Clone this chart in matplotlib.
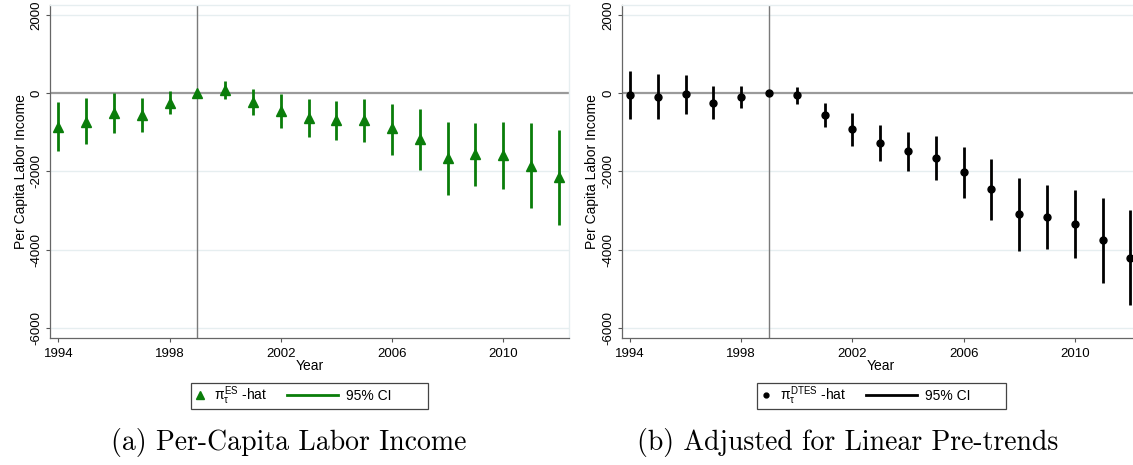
import matplotlib
matplotlib.use("Agg")
import matplotlib.pyplot as plt
from matplotlib.lines import Line2D
from matplotlib.patches import Rectangle
from matplotlib.legend_handler import HandlerLine2D

years = [1994, 1995, 1996, 1997, 1998, 1999, 2000, 2001, 2002, 2003,
         2004, 2005, 2006, 2007, 2008, 2009, 2010, 2011, 2012]

# Panel (a): event-study estimates
es_est = [-862, -734, -520, -563, -264, 0, 77, -238, -460, -631,
          -690, -690, -904, -1185, -1671, -1560, -1586, -1858, -2140]
es_lo = [-1476, -1296, -1015, -997, -545, 0, -146, -563, -887, -1117,
         -1202, -1262, -1577, -1969, -2609, -2379, -2464, -2941, -3368]
es_hi = [-222, -136, 0, -119, 40, 0, 307, 94, -34, -162,
         -205, -145, -281, -418, -750, -776, -742, -776, -938]

# Panel (b): adjusted for linear pre-trends
dt_est = [-51, -94, -34, -247, -111, 0, -60, -563, -930, -1270,
          -1492, -1662, -2029, -2464, -3103, -3163, -3342, -3760, -4212]
dt_lo = [-673, -656, -537, -665, -392, 0, -281, -878, -1355, -1748,
         -1986, -2225, -2685, -3257, -4033, -3982, -4220, -4859, -5422]
dt_hi = [563, 486, 452, 179, 179, 0, 145, -247, -520, -810,
         -997, -1100, -1372, -1688, -2183, -2362, -2473, -2677, -3000]

xticks = [1994, 1998, 2002, 2006, 2010]
yticks = [-6000, -4000, -2000, 0, 2000]
captions = ["(a) Per-Capita Labor Income", "(b) Adjusted for Linear Pre-trends"]
legend_labels = [r"$\pi_\tau^{ES}$ -hat", r"$\pi_\tau^{DTES}$ -hat"]

plt.rcParams['font.family'] = ['Liberation Sans', 'DejaVu Sans']
plt.rcParams['mathtext.fontset'] = 'custom'
plt.rcParams['mathtext.rm'] = 'Liberation Sans'
plt.rcParams['mathtext.it'] = 'Liberation Sans'
plt.rcParams['mathtext.sf'] = 'Liberation Sans'

W, H = 1133, 465
fig = plt.figure(figsize=(W / 100, H / 100), dpi=100)

GREEN = '#0a7d0a'
GRID = '#e6eef0'
fs_tick = 9.5
fs_lab = 10


class LongLineHandler(HandlerLine2D):
    """Legend line drawn longer, extending leftwards into the column gap."""
    def create_artists(self, legend, orig_handle, xdescent, ydescent,
                       width, height, fontsize, trans):
        length = 3.67 * fontsize  # points
        y = height / 2 - ydescent
        x1 = width - xdescent
        ln = Line2D([x1 - length, x1], [y, y], color=orig_handle.get_color(),
                    lw=orig_handle.get_linewidth())
        ln.set_transform(trans)
        return [ln]


class MarkerHandler(HandlerLine2D):
    def create_artists(self, legend, orig_handle, xdescent, ydescent,
                       width, height, fontsize, trans):
        y = height / 2 - ydescent
        m = Line2D([width * 0.5 - xdescent], [y], linestyle='none',
                   marker=orig_handle.get_marker(),
                   markersize=orig_handle.get_markersize(),
                   color=orig_handle.get_color())
        m.set_transform(trans)
        return [m]


def make_panel(x0px, est, lo, hi, color, marker, msize, leg_label, box_l, box_r, caption, cap_cx):
    ax = fig.add_axes([x0px / W, (H - 338) / H, 519 / W, 333 / H])
    ax.set_xlim(1993.70, 2012.37)
    ax.set_ylim(-6260, 2250)
    for yv in yticks:
        if yv != 0:
            ax.axhline(yv, color=GRID, lw=1.0, zorder=0)
    ax.axhline(0, color='#9a9a9a', lw=1.6, zorder=1)
    ax.axvline(1999, color='#7a7a7a', lw=1.0, zorder=1)
    yerr_lo = [e - l for e, l in zip(est, lo)]
    yerr_hi = [h - e for e, h in zip(est, hi)]
    ax.errorbar(years, est, yerr=[yerr_lo, yerr_hi], fmt='none',
                ecolor=color, elinewidth=2.0, capsize=0, zorder=3)
    ax.plot(years, est, linestyle='none', marker=marker, markersize=msize,
            color=color, zorder=4)
    ax.set_xticks(xticks)
    ax.set_yticks(yticks)
    ax.set_xticklabels([str(t) for t in xticks], fontsize=fs_tick)
    ax.set_yticklabels([str(t) for t in yticks], fontsize=fs_tick, rotation=90, va='center')
    ax.tick_params(axis='both', length=3, width=0.8, color='#555555')
    ax.tick_params(axis='x', pad=4.5)
    ax.tick_params(axis='y', pad=2.5)
    for s in ['top', 'right']:
        ax.spines[s].set_color(GRID)
        ax.spines[s].set_linewidth(1.0)
    for s in ['left', 'bottom']:
        ax.spines[s].set_color('#666666')
        ax.spines[s].set_linewidth(0.9)
    ax.set_xlabel('Year', fontsize=fs_lab, labelpad=-1)
    ax.set_ylabel('Per Capita Labor Income', fontsize=fs_lab, labelpad=2)

    # legend
    yc = (H - 396) / H
    h_mark = Line2D([], [], linestyle='none', marker=marker, markersize=msize - 1.5, color=color)
    h_line = Line2D([], [], color=color, lw=2.0)
    fig.legend([h_mark, h_line], [leg_label, '95% CI'], loc='center left', ncol=2,
               bbox_to_anchor=((box_l + 2) / W, yc), fontsize=fs_lab,
               frameon=False, handlelength=1.0, handletextpad=0.55, columnspacing=4.1,
               borderpad=0, borderaxespad=0,
               handler_map={h_line: LongLineHandler(), h_mark: MarkerHandler()})
    fig.patches.append(Rectangle((box_l / W, (H - 409) / H), (box_r - box_l) / W, 25.7 / H,
                                 transform=fig.transFigure, fill=False,
                                 edgecolor='#444444', lw=0.9))
    fig.text(cap_cx / W, (H - 442) / H, caption, ha='center', va='center',
             fontsize=20, family='cmr10')
    return ax

make_panel(50, es_est, es_lo, es_hi, GREEN, '^', 7.0, legend_labels[0], 190.7, 428.3, captions[0], 289)
make_panel(621.7, dt_est, dt_lo, dt_hi, 'black', 'o', 5.0, legend_labels[1], 756.7, 1005.7, captions[1], 848)

fig.savefig('out.png', dpi=100)
